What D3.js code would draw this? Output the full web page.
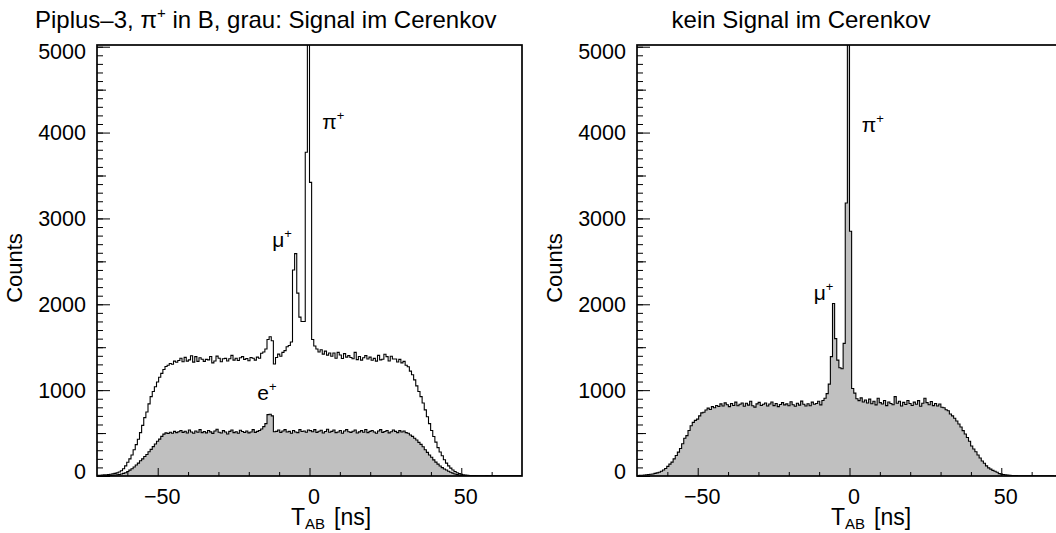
<!DOCTYPE html>
<html>
<head>
<meta charset="utf-8">
<script src="https://cdn.jsdelivr.net/npm/d3@7"></script>
<style>
  body { margin: 0; background: #fff; }
  svg text { font-family: "Liberation Sans", Arial, Helvetica, sans-serif; fill: #000; }
</style>
</head>
<body>
<svg id="chart" width="1056" height="533"></svg>
<script>
// histogram binning: 200 bins, -70 .. 70 ns
const binLow = -70;
const binWidth = 0.7;

// left panel, grey: signal in the Cerenkov counter
const signalCounts = [
  0, 1, 1, 2, 3, 4, 6, 8, 11, 14,
  18, 24, 30, 38, 52, 68, 85, 105, 128, 150,
  178, 200, 228, 250, 283, 310, 342, 372, 405, 430,
  462, 488, 502, 495, 510, 498, 520, 505, 515, 530,
  508, 522, 500, 535, 512, 498, 525, 510, 540, 505,
  518, 502, 530, 514, 496, 524, 545, 510, 500, 528,
  512, 490, 520, 535, 505, 515, 498, 532, 518, 506,
  525, 502, 512, 540, 508, 520, 530, 548, 575, 610,
  715, 720, 700, 515, 520, 535, 508, 525, 540, 512,
  520, 498, 530, 512, 505, 540, 518, 525, 510, 535,
  528, 515, 540, 508, 522, 532, 500, 518, 545, 510,
  520, 535, 505, 512, 530, 498, 525, 540, 515, 508,
  522, 536, 500, 514, 528, 510, 542, 505, 520, 530,
  512, 498, 525, 540, 508, 518, 530, 502, 515, 535,
  520, 505, 528, 512, 525, 505, 498, 478, 462, 440,
  420, 392, 368, 340, 305, 275, 245, 218, 188, 162,
  138, 116, 98, 82, 70, 56, 44, 34, 24, 16,
  10, 6, 4, 3, 2, 1, 1, 0, 1, 0,
  0, 0, 0, 0, 0, 0, 0, 0, 0, 0,
  0, 0, 0, 0, 0, 0, 0, 0, 0, 0
];

// left panel, open outline: all events
const totalCounts = [
  8, 9, 11, 13, 15, 18, 21, 25, 30, 36,
  46, 62, 85, 118, 160, 200, 245, 305, 366, 428,
  505, 590, 680, 745, 840, 925, 985, 1040, 1095, 1150,
  1195, 1240, 1275, 1290, 1310, 1302, 1338, 1325, 1346, 1372,
  1330, 1382, 1338, 1352, 1400, 1326, 1390, 1335, 1378, 1360,
  1335, 1358, 1352, 1392, 1318, 1340, 1396, 1372, 1330, 1366,
  1370, 1340, 1365, 1405, 1350, 1372, 1345, 1378, 1390, 1358,
  1368, 1342, 1380, 1372, 1350, 1385, 1372, 1430, 1445, 1480,
  1590, 1622, 1575, 1305, 1380, 1420, 1395, 1440, 1460, 1505,
  1520, 1560, 2400, 2590, 2130, 1850, 1800, 1800, 3770, 8100,
  3420, 1590, 1515, 1480, 1445, 1470, 1420, 1455, 1408, 1432,
  1395, 1432, 1372, 1440, 1410, 1368, 1425, 1385, 1402, 1380,
  1365, 1440, 1355, 1392, 1350, 1378, 1402, 1362, 1385, 1348,
  1370, 1338, 1405, 1352, 1360, 1418, 1390, 1340, 1395, 1362,
  1362, 1328, 1358, 1318, 1335, 1290, 1272, 1222, 1180, 1120,
  1050, 985, 925, 850, 770, 690, 610, 530, 460, 395,
  330, 280, 235, 190, 150, 118, 92, 70, 52, 38,
  28, 20, 14, 10, 8, 6, 5, 4, 3, 3,
  3, 3, 2, 4, 3, 2, 3, 2, 3, 2,
  2, 3, 2, 2, 3, 1, 2, 2, 1, 2
];

// right panel: no signal in the Cerenkov counter
const noSignalCounts = [
  6, 8, 9, 11, 14, 17, 20, 24, 30, 36,
  44, 56, 70, 88, 112, 138, 162, 200, 238, 278,
  320, 375, 440, 470, 530, 585, 625, 648, 662, 700,
  735, 742, 768, 790, 775, 808, 795, 822, 810, 840,
  815, 852, 830, 808, 845, 822, 860, 818, 835, 850,
  812, 848, 825, 870, 818, 802, 840, 858, 822, 835,
  850, 815, 838, 862, 820, 845, 808, 832, 855, 828,
  840, 818, 865, 830, 812, 848, 825, 872, 835, 815,
  842, 818, 860, 835, 845, 870, 828, 880, 905, 960,
  1070, 1390, 2010, 1600, 1350, 1260, 1250, 1545, 3180, 7500,
  2850, 1020, 965, 900, 878, 910, 862, 885, 850, 895,
  842, 870, 828, 905, 855, 838, 880, 820, 862, 845,
  830, 925, 848, 870, 815, 858, 832, 880, 845, 822,
  860, 835, 878, 812, 848, 905, 855, 830, 868, 820,
  845, 815, 838, 800, 795, 772, 760, 722, 700, 672,
  640, 605, 570, 528, 490, 448, 405, 350, 315, 282,
  245, 210, 175, 148, 118, 95, 80, 66, 55, 44,
  28, 22, 17, 13, 10, 8, 6, 5, 4, 3,
  3, 2, 2, 3, 2, 1, 2, 1, 2, 1,
  2, 1, 1, 2, 1, 1, 0, 1, 1, 0
];

const xDomain = [-70, 70];
const yDomain = [0, 5020];
const xMajorTicks = [-50, 0, 50];
const xMinorTicks = [-60, -40, -30, -20, -10, 10, 20, 30, 40, 60];
const yMajorTicks = [0, 1000, 2000, 3000, 4000, 5000];
const yTickLabels = ["0", "1000", "2000", "3000", "4000", "5000"];
const xTickLabels = ["\u221250", "0", "50"];

// peak annotations [ns, counts, particle]
const leftPeakLabels = [[4.2, 4040, "π"], [-12.3, 2670, "μ"], [-17.2, 880, "e"]];
const rightPeakLabels = [[4.0, 4010, "π"], [-11.8, 2050, "μ"]];

const W = 425, TOP = 45, BOTTOM = 476;
const svg = d3.select('#chart');

const y = d3.scaleLinear().domain(yDomain).range([BOTTOM, TOP]);

function steps(counts) {
    const pts = counts.map((c, i) => [binLow + i * binWidth, c]);
    pts.push([binLow + counts.length * binWidth, counts[counts.length - 1]]);
    return pts;
}

function drawPanel(id, left, series, peaks) {
    const x = d3.scaleLinear().domain(xDomain).range([left, left + W]);
    const g = svg.append('g');

    svg.append('clipPath').attr('id', 'clip' + id)
        .append('rect').attr('x', left).attr('y', TOP).attr('width', W).attr('height', BOTTOM - TOP);

    const plot = g.append('g').attr('clip-path', `url(#clip${id})`);
    const area = d3.area().x(d => x(d[0])).y0(y(0)).y1(d => y(d[1])).curve(d3.curveStepAfter);
    const line = d3.line().x(d => x(d[0])).y(d => y(d[1])).curve(d3.curveStepAfter);

    series.forEach(s => {
        const pts = steps(s.counts);
        if (s.fill) {
            plot.append('path').attr('d', area(pts)).attr('fill', s.fill);
        }
        plot.append('path').attr('d', line(pts))
            .attr('fill', 'none').attr('stroke', '#000').attr('stroke-width', 1.1);
    });

    // x axis, ticks inside
    g.append('g').attr('transform', `translate(0,${BOTTOM})`)
        .call(d3.axisBottom(x).tickValues(xMinorTicks).tickSize(-4).tickFormat(''))
        .call(a => a.select('.domain').remove());
    g.append('g').attr('transform', `translate(0,${BOTTOM})`)
        .call(d3.axisBottom(x).tickValues(xMajorTicks).tickSize(-8).tickPadding(13)
            .tickFormat((d, i) => xTickLabels[i]))
        .call(a => a.select('.domain').remove())
        .call(a => a.selectAll('text').attr('font-size', 21.5).attr('font-family', null).attr('dx', 4));

    // y axis, ticks inside
    g.append('g').attr('transform', `translate(${left},0)`)
        .call(d3.axisLeft(y).tickValues(d3.range(0, 5001, 100)).tickSize(-6).tickFormat(''))
        .call(a => a.select('.domain').remove());
    g.append('g').attr('transform', `translate(${left},0)`)
        .call(d3.axisLeft(y).tickValues(d3.range(500, 5001, 1000)).tickSize(-9).tickFormat(''))
        .call(a => a.select('.domain').remove());
    g.append('g').attr('transform', `translate(${left},0)`)
        .call(d3.axisLeft(y).tickValues(yMajorTicks).tickSize(-13).tickPadding(11)
            .tickFormat((d, i) => yTickLabels[i]))
        .call(a => a.select('.domain').remove())
        .call(a => a.selectAll('text').attr('font-size', 21.5).attr('font-family', null)
            .attr('y', d => d === 0 ? -4 : d === 5000 ? 5 : 0));

    g.selectAll('.tick line').attr('stroke', '#000').attr('stroke-width', 1);

    // frame
    g.append('rect').attr('x', left).attr('y', TOP).attr('width', W).attr('height', BOTTOM - TOP)
        .attr('fill', 'none').attr('stroke', '#000').attr('stroke-width', 1.7);

    // axis titles
    g.append('text')
        .attr('transform', `translate(${left - 75},268) rotate(-90)`)
        .attr('text-anchor', 'middle').attr('font-size', 22).text('Counts');

    const xt = g.append('text').attr('x', left + 194).attr('y', 525).attr('font-size', 23);
    xt.append('tspan').text('T');
    xt.append('tspan').attr('dy', 4).attr('font-size', 15).text('AB');
    xt.append('tspan').attr('dy', -4).attr('dx', 9).text('[ns]');

    // peak labels
    peaks.forEach(p => {
        const t = g.append('text').attr('x', x(p[0])).attr('y', y(p[1])).attr('font-size', 21);
        t.append('tspan').text(p[2]);
        t.append('tspan').attr('dy', -9).attr('font-size', 13).text('+');
    });
    return g;
}

drawPanel('L', 97, [
    { counts: signalCounts, fill: '#c0c0c0' },
    { counts: totalCounts, fill: null }
], leftPeakLabels);

drawPanel('R', 637, [
    { counts: noSignalCounts, fill: '#c0c0c0' }
], rightPeakLabels);

// panel titles
const t1 = svg.append('text').attr('x', 35).attr('y', 28).attr('font-size', 24);
t1.append('tspan').text('Piplus\u20133, π');
t1.append('tspan').attr('dy', -10).attr('font-size', 15).text('+');
t1.append('tspan').attr('dy', 10).text(' in B, grau: Signal im Cerenkov');

svg.append('text').attr('x', 801).attr('y', 28).attr('text-anchor', 'middle')
    .attr('font-size', 24).text('kein Signal im Cerenkov');
</script>
</body>
</html>
